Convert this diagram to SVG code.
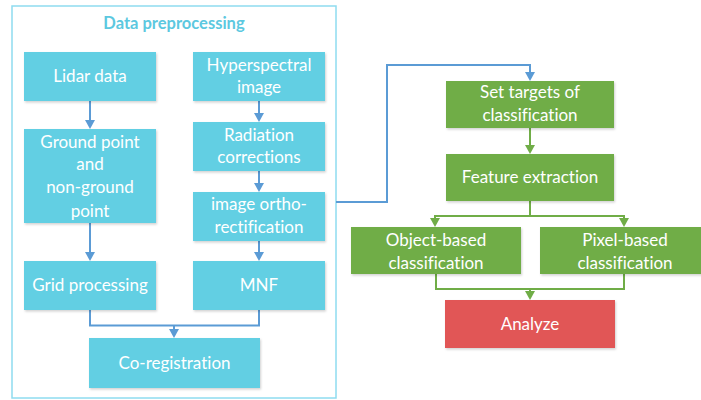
<svg xmlns="http://www.w3.org/2000/svg" width="701" height="400" viewBox="0 0 701 400">
<defs>
<style>
.t{font-family:Lato,"Open Sans","Liberation Sans",sans-serif;font-size:17px;fill:#ffffff;text-anchor:middle;font-variant-ligatures:none;font-feature-settings:"liga" 0,"dlig" 0}
.ttl{font-family:Lato,"Open Sans","Liberation Sans",sans-serif;font-size:16.5px;font-weight:bold;fill:#5cc8e0;text-anchor:middle;font-variant-ligatures:none}
.cy{fill:#62cfe3}
.gr{fill:#70ad47}
.rd{fill:#e15656}
.bl{fill:none;stroke:#5b9bd5;stroke-width:2}
.gl{fill:none;stroke:#70ad47;stroke-width:2}
.ha{fill:#5b9bd5}
.ga{fill:#70ad47}
</style>
<filter id="sh" x="-5%" y="-5%" width="115%" height="120%">
<feDropShadow dx="1" dy="1.5" stdDeviation="1" flood-color="#000" flood-opacity="0.18"/>
</filter>
</defs>
<rect x="0" y="0" width="701" height="400" fill="#ffffff"/>
<g id="frame">
<rect x="12" y="6" width="324" height="392" fill="none" stroke="#8edcf0" stroke-width="1.5"/>
<text class="ttl" x="174" y="29">Data preprocessing</text>
</g>
<g id="connectors">
<path class="bl" d="M90,101 V121"/>
<path class="ha" d="M85,120 H95 L90,129 Z"/>
<path class="bl" d="M259,101 V114"/>
<path class="ha" d="M254,113 H264 L259,122 Z"/>
<path class="bl" d="M259,171 V184"/>
<path class="ha" d="M254,183 H264 L259,192 Z"/>
<path class="bl" d="M259,241 V253"/>
<path class="ha" d="M254,252 H264 L259,261 Z"/>
<path class="bl" d="M90,223 V253"/>
<path class="ha" d="M85,252 H95 L90,261 Z"/>
<path class="bl" d="M90,310 V325.5 H259 V310"/>
<path class="bl" d="M174,325.5 V330"/>
<path class="ha" d="M169,329 H179 L174,338 Z"/>
<path class="bl" d="M336,202 H387 V65 H530 V73"/>
<path class="ha" d="M525,72 H535 L530,81 Z"/>
<path class="gl" d="M530,128 V146"/>
<path class="ga" d="M525,145 H535 L530,154 Z"/>
<path class="gl" d="M530,201 V216 M435,216 H624 M435,215 V219 M624,215 V219"/>
<path class="ga" d="M430,218 H440 L435,227 Z"/>
<path class="ga" d="M619,218 H629 L624,227 Z"/>
<path class="gl" d="M436,274 V289 H624 V274"/>
<path class="gl" d="M530,289 V292"/>
<path class="ga" d="M525,291 H535 L530,300 Z"/>
</g>
<g id="lidar"><rect class="cy" filter="url(#sh)" x="24" y="52" width="132" height="49"/><text class="t" x="90" y="82">Lidar data</text></g>
<g id="hyper"><rect class="cy" filter="url(#sh)" x="193" y="52" width="132" height="49"/><text class="t" x="259" y="71">Hyperspectral</text><text class="t" x="259" y="93">image</text></g>
<g id="ground"><rect class="cy" filter="url(#sh)" x="24" y="129" width="132" height="94"/><text class="t" x="90" y="148">Ground point</text><text class="t" x="90" y="170">and</text><text class="t" x="90" y="193">non-ground</text><text class="t" x="90" y="217">point</text></g>
<g id="radiation"><rect class="cy" filter="url(#sh)" x="193" y="122" width="132" height="49"/><text class="t" x="259" y="141">Radiation</text><text class="t" x="259" y="163">corrections</text></g>
<g id="ortho"><rect class="cy" filter="url(#sh)" x="193" y="192" width="132" height="49"/><text class="t" x="259" y="210">image ortho-</text><text class="t" x="259" y="233">rectification</text></g>
<g id="grid"><rect class="cy" filter="url(#sh)" x="24" y="261" width="132" height="49"/><text class="t" x="90" y="291">Grid processing</text></g>
<g id="mnf"><rect class="cy" filter="url(#sh)" x="193" y="261" width="132" height="49"/><text class="t" x="259" y="291">MNF</text></g>
<g id="coreg"><rect class="cy" filter="url(#sh)" x="89" y="338" width="171" height="50"/><text class="t" x="174.5" y="369">Co-registration</text></g>
<g id="targets"><rect class="gr" filter="url(#sh)" x="446" y="81" width="168" height="47"/><text class="t" x="530" y="98">Set targets of</text><text class="t" x="530" y="121">classification</text></g>
<g id="feature"><rect class="gr" filter="url(#sh)" x="446" y="154" width="168" height="47"/><text class="t" x="530" y="183">Feature extraction</text></g>
<g id="object"><rect class="gr" filter="url(#sh)" x="351" y="227" width="170" height="47"/><text class="t" x="436" y="246">Object-based</text><text class="t" x="436" y="269">classification</text></g>
<g id="pixel"><rect class="gr" filter="url(#sh)" x="540" y="227" width="170" height="47"/><text class="t" x="625" y="246">Pixel-based</text><text class="t" x="625" y="269">classification</text></g>
<g id="analyze"><rect class="rd" filter="url(#sh)" x="445" y="300" width="170" height="48"/><text class="t" x="530" y="330">Analyze</text></g>
</svg>
